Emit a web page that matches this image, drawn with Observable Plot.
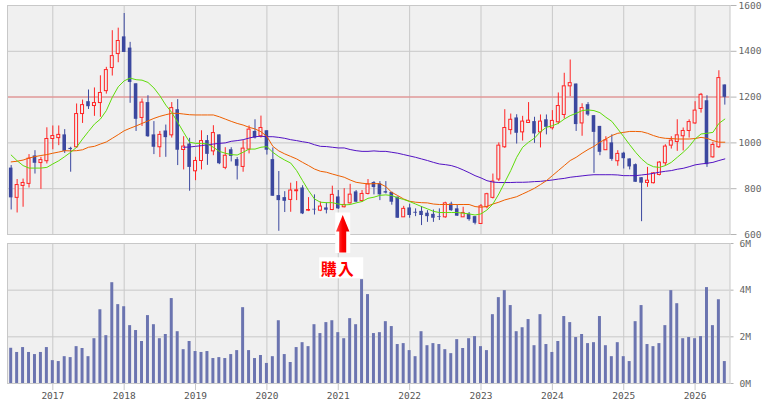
<!DOCTYPE html>
<html>
<head>
<meta charset="utf-8">
<script src="https://cdn.jsdelivr.net/npm/d3@7"></script>
<script src="https://cdn.jsdelivr.net/npm/@observablehq/plot@0.6"></script>
<style>
  html, body { margin: 0; padding: 0; background: #ffffff; }
  #chart { position: relative; width: 763px; height: 403px; overflow: hidden; }
  #chart svg { position: absolute; left: 0; overflow: visible; }
</style>
</head>
<body>
<div id="chart"></div>
<script>
// ---- Data (monthly candles, 2016-06 .. 2026-06) ----
const months = d3.utcMonths(new Date(Date.UTC(2016, 5, 1)), new Date(Date.UTC(2026, 6, 1)));

const open = [890,760,812,821,943,912,920,1017,1021,1035,976,981,1126,1180,1161,1174,1226,1327,1388,1463,
1414,1258,1109,1176,1035,981,1052,1033,1145,969,995,876,921,1010,963,1035,891,970,927,895,
971,1050,1029,1053,927,770,761,751,789,803,704,710,704,716,707,764,719,736,786,746,
777,827,822,787,784,763,675,716,697,701,693,688,678,675,733,712,675,688,678,646,
719,760,840,981,1056,1109,1046,1087,1093,1046,1101,1064,1090,1122,1247,1257,1085,1167,1119,1072,
968,1000,920,955,930,905,848,825,824,860,911,988,1004,1029,1052,1085,1148,1184,937,981,1253];

const close = [760,816,825,931,911,925,1017,1030,1035,963,971,1126,1165,1158,1174,1218,1318,1379,1445,1395,
1264,1103,1176,1027,981,1035,1023,1152,968,984,893,921,1008,950,1043,909,944,941,898,975,
1058,1021,1065,968,767,748,745,792,793,690,707,707,722,706,773,712,729,774,741,777,
819,805,773,781,741,671,712,683,693,683,678,671,675,736,704,680,694,665,649,723,
776,831,988,1065,1101,1042,1093,1097,1039,1093,1068,1096,1161,1247,1261,1080,1152,1122,1046,959,
1011,928,952,931,895,828,824,835,867,914,984,1010,1033,1052,1091,1141,1210,905,991,1283,1199];

const high = [901,840,842,949,966,937,1066,1074,1074,1058,981,1170,1187,1231,1240,1293,1330,1490,1501,1565,
1439,1258,1192,1206,1093,1050,1078,1176,1189,1027,1020,937,1053,1032,1075,1035,979,979,936,1010,
1074,1101,1117,1053,978,875,787,824,831,813,761,773,742,738,811,792,800,819,792,792,
840,831,831,831,784,763,723,732,712,722,704,707,712,741,741,728,719,696,678,731,
780,864,1000,1145,1126,1123,1116,1176,1112,1122,1122,1141,1218,1304,1362,1257,1171,1176,1119,1072,
1027,1035,966,959,930,908,848,893,870,918,992,1027,1101,1065,1101,1180,1216,1206,1003,1315,1253];

const low = [707,694,719,803,864,797,908,970,988,954,872,976,1085,1146,1116,1112,1213,1292,1350,1395,
1173,1050,1072,1024,949,936,937,1021,901,882,789,835,882,902,944,905,883,917,838,872,
952,1017,1021,947,767,614,696,697,748,687,700,685,700,690,704,709,716,733,739,741,
773,773,748,777,728,671,675,671,678,639,653,653,661,671,701,679,675,658,642,646,
712,755,831,976,1035,995,1008,1087,998,978,1035,1056,1080,1104,1202,1050,1029,1116,867,944,
967,920,898,886,882,828,656,806,821,856,899,973,963,965,1021,1081,1130,893,933,976,1165];

// volume in millions of shares
const volume = [1.51,1.33,1.54,1.33,1.24,1.33,1.54,0.98,0.94,1.15,1.11,1.58,1.50,1.15,1.92,3.16,2.05,4.32,3.38,3.29,
2.48,2.27,1.80,2.91,2.52,1.92,2.10,3.64,2.22,1.45,1.80,1.37,1.33,1.37,1.07,1.11,1.07,1.24,1.41,3.25,
1.41,1.07,1.20,0.86,1.15,2.69,1.24,0.90,1.54,1.75,1.58,2.52,2.14,2.61,2.69,2.18,1.92,2.78,2.52,4.45,
3.81,2.14,2.18,2.65,2.44,1.67,1.71,1.41,1.15,2.22,1.62,1.71,1.67,1.45,1.28,1.88,1.50,1.92,2.01,1.58,
1.41,2.95,3.68,3.98,3.34,2.22,2.39,2.74,1.62,2.95,1.67,1.33,1.80,2.87,2.61,1.97,2.10,1.71,1.75,2.87,
1.62,1.15,1.75,1.15,0.94,2.65,3.34,1.67,1.58,1.71,2.48,3.98,3.42,1.92,1.97,1.92,2.01,4.11,2.48,3.59,0.94];

// moving averages (short / medium / long)
const maShort = [947,922,901,890,890,890,893,908,922,940,959,981,1017,1050,1082,1104,1141,1199,1245,1271,
1283,1276,1274,1264,1240,1206,1165,1133,1090,1046,1003,998,998,995,981,963,955,949,947,959,
973,973,981,984,959,940,925,912,879,835,792,755,741,739,739,733,729,731,738,744,
758,763,771,773,770,760,753,744,733,722,712,701,696,696,696,696,693,690,685,690,
707,733,777,828,879,937,981,1003,1021,1049,1068,1075,1085,1104,1119,1129,1141,1144,1141,1132,
1112,1094,1061,1027,992,959,930,908,896,893,901,915,937,959,984,1017,1039,1042,1046,1085,1104];

const maMid = [917,920,925,934,940,945,949,955,960,966,965,966,970,981,985,995,1004,1020,1036,1053,
1064,1074,1085,1096,1107,1116,1123,1129,1129,1126,1123,1122,1122,1122,1122,1114,1104,1094,1085,1078,
1068,1061,1049,1028,985,965,952,941,930,915,901,886,876,872,864,857,850,838,828,824,
821,822,822,809,784,770,755,745,741,739,738,733,731,731,731,731,731,731,722,719,
723,733,741,751,758,765,777,789,802,818,835,857,879,901,923,937,955,971,985,1003,
1017,1032,1042,1046,1050,1050,1049,1042,1032,1024,1020,1019,1017,1017,1017,1019,1024,1020,1010,1003,1003];

const maLong = [null,null,null,null,null,null,null,null,null,null,null,null,null,null,null,null,null,null,null,null,
null,null,null,null,null,null,null,null,null,981,982,985,988,992,995,998,1000,1007,1010,1014,
1021,1027,1029,1027,1027,1024,1020,1014,1010,1005,1001,992,985,984,981,978,978,971,966,963,
963,965,963,963,959,955,949,943,937,930,923,915,908,905,901,893,882,870,857,847,
835,829,827,827,827,828,828,829,831,832,835,838,842,845,850,853,856,859,861,861,
861,861,860,857,857,857,860,863,867,872,876,879,885,889,896,904,908,911,915,923,930];

const priceTicks = [600, 800, 1000, 1200, 1400, 1600];
const volumeTicks = [0, 2, 4, 6];
const referencePrice = [1200];
const buyMonth = "2021-02";
const buyLabel = "購入";

// ---- Build rows ----
const fmtMonth = d3.utcFormat("%Y-%m");
const rows = open.map((o, i) => ({
  i, month: fmtMonth(months[i]), open: o, close: close[i], high: high[i], low: low[i],
  vol: volume[i], maS: maShort[i], maM: maMid[i], maL: maLong[i], up: close[i] >= o
}));
const upRows = rows.filter(d => d.up);
const downRows = rows.filter(d => !d.up);
const yearTicks = rows.filter(d => months[d.i].getUTCMonth() === 0).map(d => d.i);
const yearLabels = yearTicks.map(i => String(months[i].getUTCFullYear()));
const buyIndex = rows.find(d => d.month === buyMonth).i;

const BG = "#f0f0f0", GRID = "#c8c8c8", UP = "#ff2424", DOWN = "#3b489f", VOL = "#6b74b0";
const xScale = {type: "linear", domain: [-0.62, 120.87]};
const W = 763, ML = 7, MR = 33.5;
const font = {fontFamily: "'DejaVu Sans Mono', monospace", fontSize: "9.5px", color: "#666", background: "transparent", overflow: "visible"};

const topPlot = Plot.plot({
  width: W, height: 240, marginLeft: ML, marginRight: MR, marginTop: 5, marginBottom: 6,
  x: {...xScale, axis: null, label: null},
  y: {domain: [600, 1600], axis: null, label: null},
  style: font,
  marks: [
    Plot.frame({fill: BG, stroke: null}),
    Plot.gridX(yearTicks, {stroke: GRID, strokeOpacity: 1}),
    Plot.gridY([800, 1000, 1400], {stroke: GRID, strokeOpacity: 1}),
    Plot.ruleY(referencePrice, {stroke: "#e09898", strokeWidth: 1.5}),
    Plot.ruleX(downRows, {x: "i", y1: "low", y2: "high", stroke: DOWN}),
    Plot.ruleX(upRows, {x: "i", y1: "low", y2: "high", stroke: UP}),
    Plot.rect(downRows, {x1: d => d.i - 0.3, x2: d => d.i + 0.3, y1: "open", y2: "close", fill: DOWN}),
    Plot.rect(upRows, {x1: d => d.i - 0.25, x2: d => d.i + 0.25, y1: "open", y2: "close", fill: BG, stroke: UP, strokeWidth: 1}),
    Plot.line(rows, {x: "i", y: "maL", stroke: "#5312c4", strokeWidth: 1}),
    Plot.line(rows, {x: "i", y: "maM", stroke: "#ee5f00", strokeWidth: 1}),
    Plot.line(rows, {x: "i", y: "maS", stroke: "#5fdc0a", strokeWidth: 1}),
    Plot.frame({stroke: GRID}),
    Plot.axisY(priceTicks, {anchor: "right", label: null, tickSize: 6, tickPadding: 25.5, textAnchor: "end",
      stroke: "#b4b4b4", fill: "#666", tickFormat: d => String(d)})
  ]
});
topPlot.style.top = "0px";

const botPlot = Plot.plot({
  width: W, height: 163, marginLeft: ML, marginRight: MR, marginTop: 3, marginBottom: 20,
  x: {...xScale, axis: null, label: null},
  y: {domain: [0, 6], axis: null, label: null},
  style: font,
  marks: [
    Plot.frame({fill: BG, stroke: null}),
    Plot.gridX(yearTicks, {stroke: GRID, strokeOpacity: 1}),
    Plot.gridY([2, 4], {stroke: GRID, strokeOpacity: 1}),
    Plot.rect(rows, {x1: d => d.i - 0.25, x2: d => d.i + 0.25, y1: 0, y2: "vol", fill: VOL}),
    Plot.frame({stroke: GRID}),
    Plot.axisY(volumeTicks, {anchor: "right", label: null, tickSize: 3, tickPadding: 6.5,
      stroke: "#b4b4b4", fill: "#666", tickFormat: d => d + "M"}),
    Plot.axisX(yearTicks, {anchor: "bottom", label: null, tickSize: 7, tickPadding: 2,
      stroke: GRID, fill: "#555", tickFormat: d => yearLabels[yearTicks.indexOf(d)]})
  ]
});
botPlot.style.top = "240px";

const chart = document.getElementById("chart");
chart.appendChild(topPlot);
chart.appendChild(botPlot);

// ---- Buy annotation (arrow + label), positioned with the plot's x scale ----
const cx = topPlot.scale("x").apply(buyIndex) - 1;
const ns = "http://www.w3.org/2000/svg";
const ov = document.createElementNS(ns, "svg");
ov.setAttribute("width", W); ov.setAttribute("height", 403);
ov.style.top = "0px"; ov.style.pointerEvents = "none";
ov.innerHTML = `
  <defs><linearGradient id="ag" x1="0" x2="1" y1="0" y2="0">
    <stop offset="0" stop-color="#ff4a4a"/><stop offset="0.5" stop-color="#ff0000"/><stop offset="1" stop-color="#e00000"/>
  </linearGradient></defs>
  <rect x="${cx - 7.5}" y="212.5" width="15" height="40.5" fill="#ffffff"/>
  <polygon points="${cx},215 ${cx + 6.7},231.5 ${cx + 3.5},231.5 ${cx + 3.5},252.5 ${cx - 3.5},252.5 ${cx - 3.5},231.5 ${cx - 6.7},231.5" fill="url(#ag)"/>
  <rect x="${cx - 23.5}" y="257.3" width="44" height="21" fill="#ffffff"/>
  <text x="${cx - 22}" y="268" dominant-baseline="central" fill="#ff0000" font-weight="bold"
    font-family="'Noto Sans CJK JP', sans-serif" font-size="16px" letter-spacing="1">${buyLabel}</text>`;
chart.appendChild(ov);
</script>
</body>
</html>
